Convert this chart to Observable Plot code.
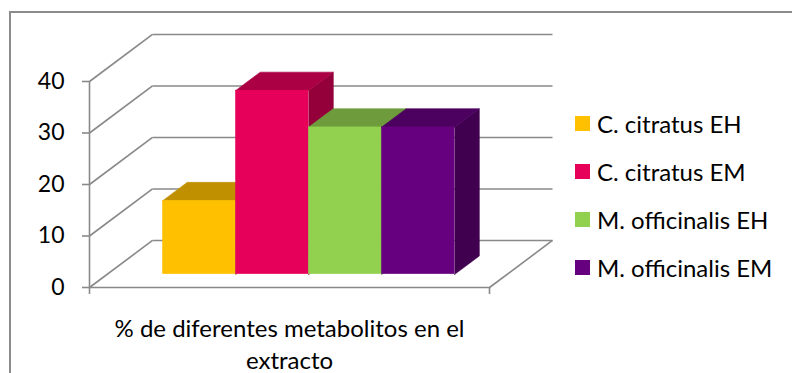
<!DOCTYPE html>
<html>
<head>
<meta charset="utf-8">
<script src="https://cdn.jsdelivr.net/npm/d3@7"></script>
<script src="https://cdn.jsdelivr.net/npm/@observablehq/plot@0.6"></script>
<style>
  html, body { margin: 0; padding: 0; background: #fff; }
  #chart { position: relative; width: 792px; height: 373px; overflow: hidden; font-family: Lato, "Open Sans", sans-serif; }
  #frame { position: absolute; left: 9px; top: 11px; width: 820px; height: 420px; border: 2px solid #8c8c8c; box-sizing: border-box; }
  #chart svg { position: absolute; left: 0; top: 0; }
  #legend { position: absolute; left: 575px; top: 99px; font-size: 24px; color: #000; }
  #legend .item { display: flex; align-items: center; height: 48px; }
  #legend .sw { width: 15px; height: 15px; margin-right: 7px; flex: none; }
</style>
</head>
<body>
<div id="chart"><div id="frame"></div></div>
<script>
// Series shown as 3D columns over one category
const series = ["C. citratus EH", "C. citratus EM", "M. officinalis EH", "M. officinalis EM"];
const values = [14.3, 35.7, 28.6, 28.6];
const yTicks = [0, 10, 20, 30, 40];
const categoryLines = ["% de diferentes metabolitos en el", "extracto"];

// face colours: front, top, side
const frontColors = ["#FFC000", "#E6005A", "#92D050", "#66007F"];
const topColors = ["#C09000", "#AC0044", "#6E9C3C", "#4C005F"];
const sideColors = ["#A07800", "#93003A", "#5A8030", "#40004F"];

// oblique projection: full depth of the box shifts x by DX (x units) and y by DY (value units)
const DX = 0.1575;
const DY = 9.13;
const proj = (x, v, d) => ({x: x + d * DX, y: v + d * DY});

// column layout along the category floor [0, 1]
const barW = 0.1825;
const gap = (1 - series.length * barW) / 2 + 0.004;
const d0 = 0.28, d1 = 0.67;

const grid = "#898989";
const marks = [];

// left wall and back wall gridlines
marks.push(Plot.link(yTicks, {x1: 0, y1: d => d, x2: DX, y2: d => d + DY, stroke: grid, strokeWidth: 1.6}));
marks.push(Plot.link(yTicks, {x1: DX, y1: d => d + DY, x2: 1 + DX, y2: d => d + DY, stroke: grid, strokeWidth: 1.6}));
// floor front and right edges
marks.push(Plot.link([0], {x1: 0, y1: 0, x2: 1, y2: 0, stroke: grid, strokeWidth: 1.6}));
marks.push(Plot.link([0], {x1: 1, y1: 0, x2: 1 + DX, y2: DY, stroke: grid, strokeWidth: 1.6}));
// value axis line
marks.push(Plot.ruleX([0], {y1: 0, y2: 40, stroke: grid, strokeWidth: 1.6}));

// columns, painted left to right: side, top, front
series.forEach((name, i) => {
  const x0 = gap + i * barW, x1 = x0 + barW, v = values[i];
  const side = [proj(x1, 0, d0), proj(x1, v, d0), proj(x1, v, d1), proj(x1, 0, d1), proj(x1, 0, d0)];
  const top = [proj(x0, v, d0), proj(x1, v, d0), proj(x1, v, d1), proj(x0, v, d1), proj(x0, v, d0)];
  marks.push(Plot.line(side, {x: "x", y: "y", fill: sideColors[i], stroke: sideColors[i], strokeWidth: 0.6}));
  marks.push(Plot.line(top, {x: "x", y: "y", fill: topColors[i], stroke: topColors[i], strokeWidth: 0.6}));
  marks.push(Plot.rect([{name, v}], {
    x1: () => x0 + d0 * DX, x2: () => x1 + d0 * DX,
    y1: () => d0 * DY, y2: d => d.v + d0 * DY,
    fill: frontColors[i]
  }));
});

marks.push(Plot.axisY({ticks: yTicks, tickSize: 7, tickPadding: 18, fontSize: 23, stroke: grid, strokeWidth: 1.6, fill: "#000", tickFormat: d => d, label: null}));
marks.push(Plot.axisX({ticks: [0, 1], tickSize: 7, stroke: grid, strokeWidth: 1.6, tickFormat: () => "", label: null}));
marks.push(Plot.text([categoryLines.join("\n")], {
  x: 0.5, frameAnchor: "bottom", lineAnchor: "top", dy: 26, fontSize: 24, lineHeight: 1.35, fill: "#000"
}));

const svg = Plot.plot({
  width: 792, height: 373,
  marginLeft: 89, marginRight: 303, marginTop: 81, marginBottom: 86,
  x: {domain: [0, 1]},
  y: {domain: [0, 40]},
  style: {fontFamily: "Lato, 'Open Sans', sans-serif", background: "transparent", overflow: "visible"},
  marks
});

const chart = document.getElementById("chart");
chart.appendChild(svg);

const legend = document.createElement("div");
legend.id = "legend";
series.forEach((name, i) => {
  const item = document.createElement("div");
  item.className = "item";
  const sw = document.createElement("span");
  sw.className = "sw";
  sw.style.background = frontColors[i];
  const label = document.createElement("span");
  label.textContent = name;
  item.append(sw, label);
  legend.appendChild(item);
});
chart.appendChild(legend);
</script>
</body>
</html>
